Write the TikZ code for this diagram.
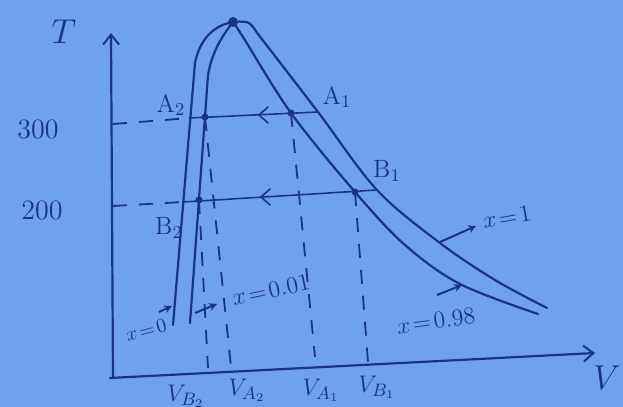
\documentclass[tikz,border=0pt]{standalone}
\usetikzlibrary{arrows.meta}
\definecolor{paper}{RGB}{112,161,240}
\definecolor{ink}{RGB}{26,52,132}
\begin{document}
\begin{tikzpicture}[x=0.5pt,y=-0.5pt,
  inkline/.style={draw=ink,line width=1.1pt,line cap=round,line join=round},
  thinline/.style={draw=ink,line width=0.8pt,line cap=round},
  dashline/.style={draw=ink,line width=0.9pt,dash pattern=on 7pt off 6pt},
  axisline/.style={inkline,-{Straight Barb[length=5pt,width=8pt,line width=1pt]}},
  labelarrow/.style={draw=ink,line width=1pt,-{Stealth[length=4pt,width=4pt]}},
  lbl/.style={text=ink,inner sep=0pt,font=\fontsize{12.5}{13}\selectfont},
  smlbl/.style={text=ink,inner sep=0pt,font=\fontsize{10}{11}\selectfont},
  numlbl/.style={text=ink,inner sep=0pt,font=\fontsize{14}{15}\selectfont},
  biglbl/.style={text=ink,inner sep=0pt,font=\fontsize{18}{19}\selectfont},
  dotmark/.style={fill=ink,circle,inner sep=0pt,minimum size=3.5pt}]
\fill[paper] (0,0) rectangle (623,407);
\useasboundingbox (0,0) rectangle (623,407);

% axes
\coordinate (O) at (113,378);
\coordinate (Ytop) at (111,33);
\coordinate (Xstart) at (110,378);
\coordinate (Xend) at (595,353);
\draw[axisline] (O) -- (Ytop);
\draw[axisline] (Xstart) -- (Xend);
\node[biglbl] (Tlab) at (64,32) {$T$};
\node[biglbl] (Vlab) at (607,378) {$V$};
\node[numlbl] (t300) at (38,129) {300};
\node[numlbl] (t200) at (42,210) {200};

% critical point
\coordinate (C) at (233,22);
\node[dotmark,minimum size=5pt] (Cdot) at (C) {};

% saturated liquid (x=0) and x=0.01
\coordinate (L0b) at (173,325);
\coordinate (L0t) at (195,63);
\draw[inkline] (L0b) -- (L0t) .. controls (200,38) and (215,25) .. (C);
\coordinate (L1b) at (190,323);
\coordinate (L1t) at (208,75);
\draw[inkline] (L1b) -- (L1t) .. controls (212,52) and (222,36) .. (C);

% x=1 and x=0.98
\draw[inkline] plot[smooth,tension=0.55] coordinates
  {(233,22) (249,23) (261,38) (318,112) (377,190) (440,243) (495,280) (547,308)};
\draw[inkline] plot[smooth,tension=0.55] coordinates
  {(233,22) (243,37) (291,113) (355,192) (405,245) (460,284) (538,314)};

% points
\coordinate (A2) at (205,117);
\coordinate (B2) at (199,200);
\coordinate (A1) at (291,113);
\coordinate (B1) at (355,192);
\node[dotmark] (A2d) at (A2) {};
\node[dotmark] (B2d) at (B2) {};
\node[dotmark] (A1d) at (A1) {};
\node[dotmark] (B1d) at (B1) {};

% 300 line
\coordinate (H3a) at (113,124);
\coordinate (H3b) at (190,118);
\coordinate (H3c) at (318,112);
\draw[dashline] (H3a) -- (H3b);
\draw[thinline] (H3b) -- (H3c);
\coordinate (M3) at (259,115);
\draw[thinline] ([shift={(9,-8)}]M3) -- (M3) -- ([shift={(9,8)}]M3);

% 200 line
\coordinate (H2a) at (113,206);
\coordinate (H2b) at (183,202);
\coordinate (H2c) at (377,190);
\draw[dashline] (H2a) -- (H2b);
\draw[thinline] (H2b) -- (H2c);
\coordinate (M2) at (261,197);
\draw[thinline] ([shift={(9,-8)}]M2) -- (M2) -- ([shift={(9,8)}]M2);

% vertical dashed lines
\coordinate (VB2) at (208,368);
\coordinate (VA2) at (231,367);
\coordinate (VA1) at (315,357);
\coordinate (VB1) at (368,362);
\draw[dashline] (B2) -- (VB2);
\draw[dashline] (A2) -- (VA2);
\draw[dashline] (A1) -- (VA1);
\draw[dashline] (B1) -- (VB1);

% point labels
\node[lbl] (A2l) at (171,105) {A$_2$};
\node[lbl] (B2l) at (169,228) {B$_2$};
\node[lbl] (A1l) at (337,97) {A$_1$};
\node[lbl] (B1l) at (387,171) {B$_1$};

% axis labels
\node[lbl] (vB2) at (186,396) {$V_{B_2}$};
\node[lbl] (vA2) at (247,390) {$V_{A_2}$};
\node[lbl] (vA1) at (321,390) {$V_{A_1}$};
\node[lbl] (vB1) at (377,387) {$V_{B_1}$};

% curve labels
\coordinate (q0a) at (159,312);
\coordinate (q0b) at (172,306);
\draw[labelarrow] (q0a) -- (q0b);
\node[smlbl,rotate=15] (x0) at (146,330) {$x\!=\!0$};
\coordinate (q1a) at (195,313);
\coordinate (q1b) at (217,304);
\draw[labelarrow] (q1a) -- (q1b);
\node[lbl,rotate=12] (x001) at (271,290) {$x\!=\!0.01$};
\coordinate (q2a) at (440,242);
\coordinate (q2b) at (476,226);
\draw[labelarrow] (q2a) -- (q2b);
\node[lbl,rotate=10] (x1) at (507,217) {$x\!=\!1$};
\coordinate (q3a) at (437,295);
\coordinate (q3b) at (462,285);
\draw[labelarrow] (q3a) -- (q3b);
\node[lbl,rotate=8] (x098) at (436,321) {$x\!=\!0.98$};
\end{tikzpicture}
\end{document}
